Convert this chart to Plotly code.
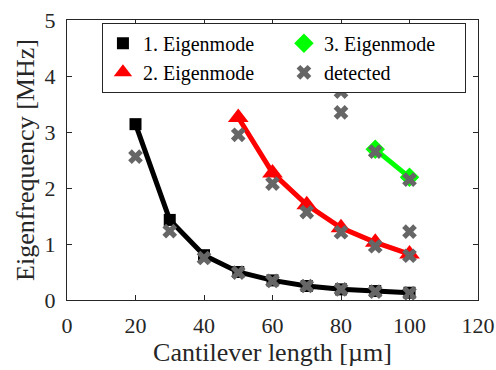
import plotly.graph_objects as go

length = [20, 30, 40, 50, 60, 70, 80, 90, 100]
mode1 = [3.14, 1.43, 0.80, 0.50, 0.35, 0.25, 0.19, 0.16, 0.13]
length2 = [50, 60, 70, 80, 90, 100]
mode2 = [3.26, 2.27, 1.70, 1.29, 1.03, 0.82]
length3 = [90, 100]
mode3 = [2.69, 2.19]
det_x = [20, 30, 40, 50, 50, 60, 60, 70, 70, 80, 80, 80, 80, 90, 90, 90, 100, 100, 100, 100]
det_y = [2.56, 1.23, 0.75, 2.95, 0.49, 2.08, 0.34, 1.57, 0.25, 3.72, 3.35, 1.21, 0.19,
         2.65, 0.96, 0.15, 2.15, 1.22, 0.79, 0.12]

font = "Liberation Serif, Times New Roman, serif"
m1 = dict(symbol="square", size=12, color="black")
m2 = dict(symbol="triangle-up", size=18, color="#ff0000")
m3 = dict(symbol="diamond", size=15, color="#00ff00")
md = dict(symbol="x", size=13, color="#666666")

fig = go.Figure()
fig.add_trace(go.Scatter(x=length, y=mode1, mode="lines+markers", showlegend=False,
                         line=dict(color="black", width=5), marker=m1))
fig.add_trace(go.Scatter(x=length2, y=mode2, mode="lines+markers", showlegend=False,
                         line=dict(color="#ff0000", width=5), marker=m2))
fig.add_trace(go.Scatter(x=length3, y=mode3, mode="lines+markers", showlegend=False,
                         line=dict(color="#00ff00", width=5), marker=m3))
fig.add_trace(go.Scatter(x=det_x, y=det_y, mode="markers", showlegend=False, marker=md))

# legend-only entries (markers only, as in the original)
for name, mk, rank in [("1. Eigenmode", m1, 1), ("3. Eigenmode", m3, 2),
                       ("2. Eigenmode", m2, 3), ("detected", md, 4)]:
    fig.add_trace(go.Scatter(x=[None], y=[None], mode="markers", name=name,
                             marker=mk, legendrank=rank))

axis_common = dict(showgrid=False, zeroline=False, showline=True, linecolor="#262626",
                   linewidth=1, mirror="ticks", ticks="inside", ticklen=5, tickcolor="#262626",
                   automargin=False, ticklabelstandoff=6,
                   tickfont=dict(family=font, size=22, color="#262626"))
fig.update_layout(
    width=496, height=370,
    margin=dict(l=67, r=18, t=20, b=70),
    plot_bgcolor="white", paper_bgcolor="white",
    font=dict(family=font, color="#262626"),
    xaxis=dict(range=[0, 120], dtick=20, title=dict(text="Cantilever length [µm]",
               font=dict(family=font, size=26), standoff=2), **axis_common),
    yaxis=dict(range=[0, 5], dtick=1, title=dict(text="Eigenfrequency [MHz]",
               font=dict(family=font, size=26), standoff=2), **axis_common),
    legend=dict(orientation="h", x=0.085, y=0.99, xanchor="left", yanchor="top",
                bordercolor="#262626", borderwidth=1, bgcolor="white",
                entrywidth=136, entrywidthmode="pixels",
                font=dict(family=font, size=20, color="black"), tracegroupgap=0,
                itemwidth=30),
    showlegend=True,
)
fig.write_html("out.html", config={"displayModeBar": False},
               post_script="document.body.style.margin='0';")
